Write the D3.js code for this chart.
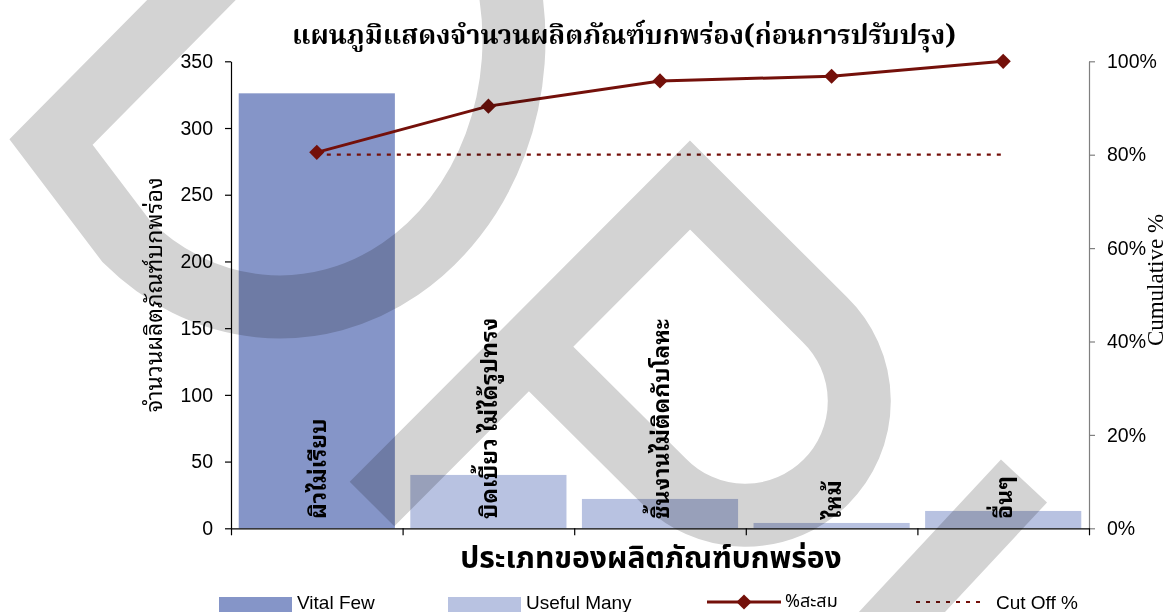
<!DOCTYPE html>
<html>
<head>
<meta charset="utf-8">
<script src="https://cdn.jsdelivr.net/npm/d3@7"></script>
<style>
  body { margin: 0; background: #fff; }
  svg { display: block; }
</style>
</head>
<body>
<svg id="chart" width="1168" height="612"></svg>
<script>
// data
const categories = ['ผิวไม่เรียบ', 'บิดเบี้ยว ไม่ได้รูปทรง', 'ชิ้นงานไม่ติดกับโลหะ', 'ไหม้', 'อื่นๆ'];
const defects = [326, 40, 22, 4, 13];
const groups = ['Vital Few', 'Useful Many', 'Useful Many', 'Useful Many', 'Useful Many'];
const cumulative = [0.805, 0.904, 0.958, 0.968, 1.0];
const cutOff = 0.8;
const countTicks = [0, 50, 100, 150, 200, 250, 300, 350];
const pctTicks = [0, 0.2, 0.4, 0.6, 0.8, 1.0];

const title = 'แผนภูมิแสดงจำนวนผลิตภัณฑ์บกพร่อง(ก่อนการปรับปรุง)';
const xTitle = 'ประเภทของผลิตภัณฑ์บกพร่อง';
const yTitle = 'จำนวนผลิตภัณฑ์บกพร่อง';
const y2Title = 'Cumulative %';

const barColor = { 'Vital Few': '#8595c8', 'Useful Many': '#b8c2e1' };
const lineColor = '#74100a';
const thaiLooped = "'Noto Sans Thai Looped','Noto Serif Thai','Noto Sans Thai',Garuda,Loma,sans-serif";
const thaiSans = "'Noto Sans Thai','Noto Sans Thai Looped',Loma,Garuda,'Noto Sans',sans-serif";
const latin = "'Liberation Sans',Arial,sans-serif";

const svg = d3.select('#chart');
const plot = { left: 231, right: 1089, top: 61.3, bottom: 528.3 };

svg.append('rect').attr('width', 1168).attr('height', 612).attr('fill', '#fff');

const x = d3.scaleBand().domain(categories)
    .range([plot.left, plot.right]).paddingInner(0.09).paddingOuter(0.045);
const xEdge = d3.scaleLinear().domain([0, categories.length]).range([plot.left, plot.right]);
const y = d3.scaleLinear().domain([0, 350]).range([plot.bottom, plot.top]);
const yp = d3.scaleLinear().domain([0, 1]).range([plot.bottom, plot.top]);
const cx = d => x(d) + x.bandwidth() / 2;

// bars
svg.append('g').selectAll('rect')
    .data(categories)
    .join('rect')
    .attr('x', d => x(d))
    .attr('width', x.bandwidth())
    .attr('y', (d, i) => y(defects[i]))
    .attr('height', (d, i) => y(0) - y(defects[i]))
    .attr('fill', (d, i) => barColor[groups[i]]);

// bar labels, vertical
svg.append('g').selectAll('text')
    .data(categories)
    .join('text')
    .attr('transform', d => `translate(${cx(d) + 9},519) rotate(-90)`)
    .style('font-family', thaiLooped)
    .style('font-weight', 'bold')
    .style('font-size', '23px')
    .text(d => d);

// axes
const axisL = svg.append('g')
    .attr('transform', `translate(${plot.left},0)`)
    .call(d3.axisLeft(y).tickValues(countTicks).tickSize(6).tickPadding(12).tickSizeOuter(0));
const axisR = svg.append('g')
    .attr('transform', `translate(${plot.right},0)`)
    .call(d3.axisRight(yp).tickValues(pctTicks).tickFormat(d3.format('.0%'))
        .tickSize(6).tickPadding(12).tickSizeOuter(0));
const axisB = svg.append('g')
    .attr('transform', `translate(0,${plot.bottom})`)
    .call(d3.axisBottom(xEdge).tickValues(d3.range(categories.length + 1))
        .tickFormat('').tickSize(7).tickSizeOuter(0));

[axisL, axisR, axisB].forEach(g => {
    g.selectAll('text').style('font-family', latin).style('font-size', '19.5px').attr('fill', '#000');
    g.selectAll('line,path').attr('stroke', '#000').attr('stroke-width', 1.2);
});
axisR.selectAll('line,path').attr('stroke', '#7f7f7f');

// cut off line
svg.append('line')
    .attr('x1', cx(categories[0])).attr('x2', cx(categories[categories.length - 1]))
    .attr('y1', yp(cutOff)).attr('y2', yp(cutOff))
    .attr('stroke', lineColor).attr('stroke-width', 2.3).attr('stroke-dasharray', '4,6');

// cumulative line
const line = d3.line().x((d, i) => cx(categories[i])).y(d => yp(d));
svg.append('path').datum(cumulative)
    .attr('d', line).attr('fill', 'none')
    .attr('stroke', lineColor).attr('stroke-width', 3);
const diamond = d3.symbol(d3.symbolSquare, 115);
svg.append('g').selectAll('path')
    .data(cumulative)
    .join('path')
    .attr('d', diamond)
    .attr('transform', (d, i) => `translate(${cx(categories[i])},${yp(d)}) rotate(45)`)
    .attr('fill', lineColor);

// titles
svg.append('text')
    .attr('x', 624).attr('y', 44)
    .attr('text-anchor', 'middle')
    .style('font-family', "'Noto Serif Thai','Noto Sans Thai Looped',serif")
    .style('font-weight', 'bold').style('font-size', '27px')
    .text(title);
svg.append('text')
    .attr('x', 651).attr('y', 568)
    .attr('text-anchor', 'middle')
    .style('font-family', thaiSans)
    .style('font-weight', 'bold').style('font-size', '30px')
    .text(xTitle);
svg.append('text')
    .attr('transform', `translate(162,${(plot.top + plot.bottom) / 2}) rotate(-90)`)
    .attr('text-anchor', 'middle')
    .style('font-family', thaiLooped).style('font-size', '23px')
    .text(yTitle);
svg.append('text')
    .attr('transform', 'translate(1163,280) rotate(-90)')
    .attr('text-anchor', 'middle')
    .style('font-family', "'Liberation Serif','Times New Roman',serif").style('font-size', '23px')
    .text(y2Title);

// legend
const legend = svg.append('g').style('font-family', latin).style('font-size', '19px');
const legendItems = [
    { label: 'Vital Few', type: 'bar', color: barColor['Vital Few'], x: 219 },
    { label: 'Useful Many', type: 'bar', color: barColor['Useful Many'], x: 448 },
    { label: '%สะสม', type: 'line', x: 707 },
    { label: 'Cut Off %', type: 'dash', x: 916 }
];
legendItems.forEach(it => {
    const g = legend.append('g').attr('transform', `translate(${it.x},0)`);
    if (it.type === 'bar') {
        g.append('rect').attr('y', 597).attr('width', 73).attr('height', 16).attr('fill', it.color);
        g.append('text').attr('x', 78).attr('y', 609).text(it.label);
    } else if (it.type === 'line') {
        g.append('line').attr('x1', 0).attr('x2', 74).attr('y1', 602).attr('y2', 602)
            .attr('stroke', lineColor).attr('stroke-width', 3);
        g.append('path').attr('d', diamond).attr('transform', 'translate(37,602) rotate(45)').attr('fill', lineColor);
        g.append('text').attr('x', 78).attr('y', 607).style('font-family', thaiSans)
            .style('font-size', '18px').text(it.label);
    } else {
        g.append('line').attr('x1', 0).attr('x2', 70).attr('y1', 602).attr('y2', 602)
            .attr('stroke', lineColor).attr('stroke-width', 2).attr('stroke-dasharray', '4,6');
        g.append('text').attr('x', 80).attr('y', 609).text(it.label);
    }
});

// grey watermark laid over the chart
const watermark = [
    'M231,-40 L51,142 L126,241 A234,267 0 0 0 508,-20',
    'M372,504 L690,185 L824.6,319.4 A114,114 0 1 1 663.4,480.6 L521,339',
    'M1024,481 L860,657'
];
svg.append('g')
    .style('mix-blend-mode', 'multiply')
    .selectAll('path')
    .data(watermark)
    .join('path')
    .attr('d', d => d)
    .attr('fill', 'none')
    .attr('stroke', '#d3d3d3')
    .attr('stroke-width', 63);
</script>
</body>
</html>
